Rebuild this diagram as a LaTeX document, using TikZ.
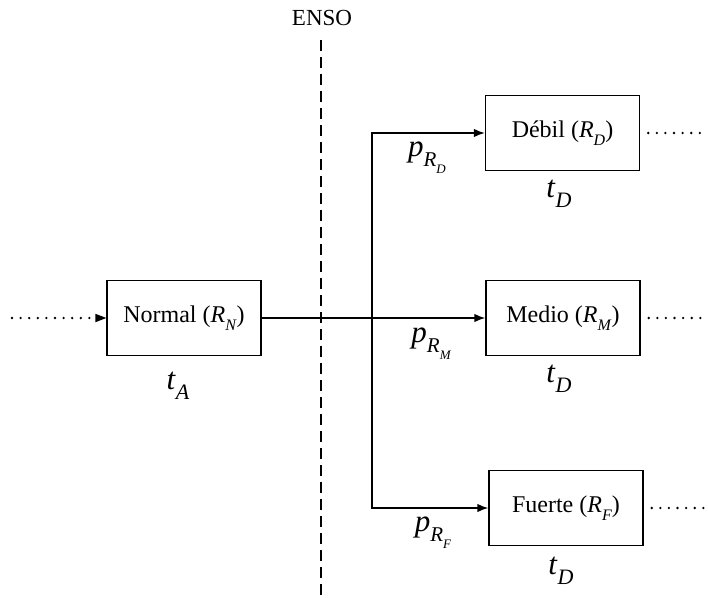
\documentclass[tikz,border=0pt]{standalone}
\usepackage{fontspec}
\setmainfont{Liberation Serif}
\usetikzlibrary{arrows.meta, positioning}

% italic letter with a lowered italic index
\newcommand{\idx}[3]{\textit{#1}\raisebox{-.32em}{\fontsize{#2}{#2}\selectfont\textit{#3}}}

\begin{document}
\begin{tikzpicture}[
    x=1pt, y=-1pt,
    >={Latex[length=11pt,width=8.5pt]},
    box/.style={
        draw,
        line width=1.4pt,
        minimum width=154pt,
        minimum height=75pt,
        inner sep=0pt,
        font=\fontsize{24}{28}\selectfont
    },
    lbl/.style={inner sep=0pt, anchor=north, font=\fontsize{31}{35}\selectfont},
    flow/.style={->, line width=1.4pt},
    dots/.style={line width=2.6pt, dash pattern=on 0pt off 8.6pt, line cap=round}
]
\useasboundingbox (0,0) rectangle (708,597);

% ENSO divide
\node[inner sep=0pt, font=\fontsize{23}{27}\selectfont] (enso) at (322,18) {ENSO};
\coordinate (ensotop) at (321,40);
\coordinate (ensobot) at (321,597);
\draw[line width=1.3pt, dash pattern=on 11pt off 6pt] (ensotop) -- (ensobot);

% states
\node[box] (norm) at (184,318) {Normal (\idx{R}{16}{N})};
\node[box] (debil) at (562.5,133) {Débil (\idx{R}{16}{D})};
\node[box] (medio) at (563,318) {Medio (\idx{R}{16}{M})};
\node[box] (fuerte) at (566,508) {Fuerte (\idx{R}{16}{F})};

\node[lbl] (ta) at (178,372) {\idx{t}{22}{A}};
\node[lbl] (td1) at (559,180) {\idx{t}{22}{D}};
\node[lbl] (td2) at (559,365) {\idx{t}{22}{D}};
\node[lbl] (td3) at (561,557) {\idx{t}{22}{D}};

\node[lbl] (pd) at (427,142) {\idx{p}{21}{R\raisebox{-.3em}{\fontsize{13}{13}\selectfont\textit{D}}}};
\node[lbl] (pm) at (431,328) {\idx{p}{21}{R\raisebox{-.3em}{\fontsize{13}{13}\selectfont\textit{M}}}};
\node[lbl] (pf) at (433,517) {\idx{p}{21}{R\raisebox{-.3em}{\fontsize{13}{13}\selectfont\textit{F}}}};

% transitions
\coordinate (in) at (12,318);
\coordinate (split) at (372,318);
\coordinate (outd) at (708,133);
\coordinate (outm) at (708,318);
\coordinate (outf) at (708,508);

\draw[dots] (in) -- ([xshift=-10pt]norm.west);
\fill (norm.west) -- ++(-11,-4.25) -- ++(0,8.5) -- cycle;
\draw[flow] (norm) -- (medio);
\draw[flow] (split) |- (debil);
\draw[flow] (split) |- (fuerte);

\draw[dots] ([xshift=8pt]debil.east) -- (outd);
\draw[dots] ([xshift=8pt]medio.east) -- (outm);
\draw[dots] ([xshift=8pt]fuerte.east) -- (outf);
\end{tikzpicture}
\end{document}
